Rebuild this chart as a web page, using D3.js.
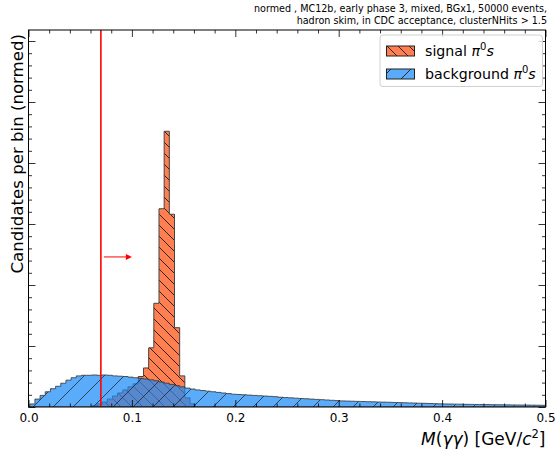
<!DOCTYPE html>
<html>
<head>
<meta charset="utf-8">
<script src="https://cdn.jsdelivr.net/npm/d3@7"></script>
<style>
  body { margin: 0; background: #fff; }
  svg { font-family: "DejaVu Sans", sans-serif; }
</style>
</head>
<body>
<svg id="chart"></svg>
<script>
// histogram binning: 0.005 GeV wide bins
const binWidth = 0.005;

// signal pi0 candidates, first filled bin starts at 0.0612
const signalStart = 0.0612;
const signalValues = [0.2, 0.5, 0.8, 1.3, 1.8, 2.3, 2.8, 3.3, 3.8, 5.0,
  6.4, 9.7, 17.0, 32.5, 45.2, 31.6, 13.0, 5.1, 1.5, 0.5];

// background pi0 candidates, one value per bin
const backgroundStart = 0.0012;
const backgroundValues = [
  0.5, 1.3, 1.9, 2.5, 3.0, 3.4, 3.9, 4.4, 4.8, 5.1,
  5.2, 5.2, 5.25, 5.2, 5.25, 5.2, 5.1, 5.05, 5.0, 4.9,
  4.8, 4.7, 4.6, 4.45, 4.3, 4.1, 3.9, 3.7, 3.5, 3.3,
  3.1, 2.95, 2.8, 2.7, 2.6, 2.5, 2.4, 2.3, 2.2, 2.1,
  2.05, 2.0, 1.95, 1.9, 1.85, 1.8, 1.75, 1.7, 1.6, 1.55,
  1.5, 1.45, 1.4, 1.35, 1.3, 1.25, 1.2, 1.15, 1.1, 1.05,
  1.0, 0.97, 0.95, 0.92, 0.9, 0.87, 0.85, 0.82, 0.8, 0.78,
  0.75, 0.72, 0.7, 0.67, 0.65, 0.62, 0.6, 0.57, 0.55, 0.52,
  0.5, 0.49, 0.47, 0.46, 0.44, 0.43, 0.42, 0.4, 0.39, 0.38,
  0.37, 0.36, 0.35, 0.34, 0.33, 0.32, 0.31, 0.3, 0.29, 0.28
];

const cutValue = 0.07;
const arrowEnd = 0.1;
const arrowLevel = 24.6;

const xTicks = [0.0, 0.1, 0.2, 0.3, 0.4, 0.5];
const yTicks = [0, 10, 20, 30, 40, 50, 60];

const titleLines = [
  "normed , MC12b, early phase 3, mixed, BGx1, 50000 events,",
  "hadron skim, in CDC acceptance, clusterNHits > 1.5"
];

const width = 557;
const height = 454;
const margin = { top: 30, right: 11.5, bottom: 47, left: 28.5 };

const signalColor = "#ff7f50";
const backgroundColor = "#1b8bf8";

const svg = d3.select("#chart")
  .attr("width", width)
  .attr("height", height);

const x = d3.scaleLinear()
  .domain([0, 0.5])
  .range([margin.left, width - margin.right]);

const y = d3.scaleLinear()
  .domain([0, (height - margin.bottom - margin.top) / 6.1])
  .range([height - margin.bottom, margin.top]);

// hatch patterns
const defs = svg.append("defs");

defs.append("pattern")
  .attr("id", "hatchSig")
  .attr("patternUnits", "userSpaceOnUse")
  .attr("width", 11).attr("height", 11)
  .append("path")
  .attr("d", "M-1,10 L1,12 M0,0 L11,11 M10,-1 L12,1")
  .attr("stroke", "#1a1a1a")
  .attr("stroke-width", 0.9);

defs.append("pattern")
  .attr("id", "hatchFwd")
  .attr("patternUnits", "userSpaceOnUse")
  .attr("width", 20).attr("height", 20)
  .append("path")
  .attr("d", "M-2,2 L2,-2 M0,20 L20,0 M18,22 L22,18")
  .attr("stroke", "#1a1a1a")
  .attr("stroke-width", 0.9);

defs.append("clipPath")
  .attr("id", "plotClip")
  .append("rect")
  .attr("x", margin.left).attr("y", margin.top)
  .attr("width", width - margin.left - margin.right)
  .attr("height", height - margin.top - margin.bottom);

// step outline of a histogram, closed along the baseline
function histPath(start, values) {
  let p = "M" + x(start) + "," + y(0);
  values.forEach((v, i) => {
    const e0 = start + i * binWidth;
    const e1 = e0 + binWidth;
    p += "L" + x(e0) + "," + y(v) + "L" + x(e1) + "," + y(v);
  });
  p += "L" + x(start + values.length * binWidth) + "," + y(0) + "Z";
  return p;
}

const plot = svg.append("g").attr("clip-path", "url(#plotClip)");

const sigPath = histPath(signalStart, signalValues);
const bkgPath = histPath(backgroundStart, backgroundValues);

// signal underneath
plot.append("path").attr("d", sigPath).attr("fill", signalColor);
plot.append("path").attr("d", sigPath).attr("fill", "url(#hatchSig)");
plot.append("path").attr("d", sigPath)
  .attr("fill", "none").attr("stroke", "#444").attr("stroke-width", 1);

// background on top, semi transparent
plot.append("path").attr("d", bkgPath)
  .attr("fill", backgroundColor).attr("fill-opacity", 0.72);
plot.append("path").attr("d", bkgPath)
  .attr("fill", "url(#hatchFwd)").attr("opacity", 0.8);
plot.append("path").attr("d", bkgPath)
  .attr("fill", "none").attr("stroke", "#333").attr("stroke-opacity", 0.8)
  .attr("stroke-width", 1);

// cut line and direction arrow
svg.append("line")
  .attr("x1", x(cutValue)).attr("x2", x(cutValue))
  .attr("y1", y.range()[0]).attr("y2", y.range()[1])
  .attr("stroke", "#ff0000").attr("stroke-width", 1.6);

svg.append("line")
  .attr("x1", x(cutValue) + 3).attr("x2", x(arrowEnd) - 5)
  .attr("y1", y(arrowLevel)).attr("y2", y(arrowLevel))
  .attr("stroke", "#ff0000").attr("stroke-width", 1);
svg.append("path")
  .attr("d", "M" + x(arrowEnd) + "," + y(arrowLevel) +
    "l-6,-3 l0,6 Z")
  .attr("fill", "#ff0000");

// axes, ticks pointing inward on all four sides
const xMinor = d3.range(0, 0.5001, 0.02).filter(v => Math.abs(v * 10 - Math.round(v * 10)) > 1e-6);
const yMinor = d3.range(0, 61.8, 2).filter(v => v % 10 !== 0);

function styleAxis(g) {
  g.select(".domain").remove();
  g.selectAll(".tick line").attr("stroke", "#000").attr("stroke-width", 0.8);
}

function addTicks(axisFn, ticks, size, transform) {
  svg.append("g")
    .attr("transform", transform)
    .call(axisFn.tickValues(ticks).tickFormat("")
      .tickSizeInner(-size).tickSizeOuter(0))
    .call(styleAxis);
}

svg.append("g")
  .attr("transform", "translate(0," + y(0) + ")")
  .call(d3.axisBottom(x).tickValues(xTicks).tickFormat(d3.format(".1f"))
    .tickSizeInner(-7).tickSizeOuter(0).tickPadding(6))
  .call(styleAxis)
  .call(g => g.selectAll("text").attr("font-size", 12)
    .attr("font-family", "DejaVu Sans").attr("fill", "#000"));

addTicks(d3.axisBottom(x), xMinor, 3.5, "translate(0," + y(0) + ")");
addTicks(d3.axisTop(x), xTicks, 7, "translate(0," + margin.top + ")");
addTicks(d3.axisTop(x), xMinor, 3.5, "translate(0," + margin.top + ")");
addTicks(d3.axisLeft(y), yTicks, 7, "translate(" + margin.left + ",0)");
addTicks(d3.axisLeft(y), yMinor, 3.5, "translate(" + margin.left + ",0)");
addTicks(d3.axisRight(y), yTicks, 7, "translate(" + x(0.5) + ",0)");
addTicks(d3.axisRight(y), yMinor, 3.5, "translate(" + x(0.5) + ",0)");

// frame
svg.append("rect")
  .attr("x", x(0)).attr("y", y.range()[1])
  .attr("width", x(0.5) - x(0))
  .attr("height", y.range()[0] - y.range()[1])
  .attr("fill", "none").attr("stroke", "#000").attr("stroke-width", 1);

// axis labels
svg.append("text")
  .attr("transform", "translate(22.5," + (margin.top + 4) + ") rotate(-90)")
  .attr("text-anchor", "end")
  .attr("font-size", 16.6)
  .text("Candidates per bin (normed)");

const xl = svg.append("text")
  .attr("x", x(0.5)).attr("y", 445)
  .attr("text-anchor", "end")
  .attr("font-size", 17);
xl.append("tspan").attr("font-style", "italic").text("M");
xl.append("tspan").text("(");
xl.append("tspan").attr("font-style", "italic").text("γγ");
xl.append("tspan").text(") [GeV/");
xl.append("tspan").attr("font-style", "italic").text("c");
xl.append("tspan").attr("font-size", 11.5).attr("dy", -7).text("2");
xl.append("tspan").attr("dy", 7).text("]");

// title block, right aligned above the frame
svg.append("g").selectAll("text")
  .data(titleLines)
  .join("text")
  .attr("x", x(0.5) + 1.5)
  .attr("y", (d, i) => 12 + i * 12)
  .attr("text-anchor", "end")
  .attr("font-size", 9.6)
  .text(d => d);

// legend
const legend = svg.append("g");
legend.append("rect")
  .attr("x", 380).attr("y", 35)
  .attr("width", 162.5).attr("height", 51.5)
  .attr("rx", 3)
  .attr("fill", "#fff").attr("fill-opacity", 0.8)
  .attr("stroke", "#d0d0d0").attr("stroke-width", 1);

const legendItems = [
  { label: "signal", fill: signalColor, opacity: 1, hatch: "url(#hatchSig)" },
  { label: "background", fill: backgroundColor, opacity: 0.72, hatch: "url(#hatchFwd)" }
];

legendItems.forEach((d, i) => {
  const ty = 46 + i * 23;
  legend.append("rect")
    .attr("x", 386.5).attr("y", ty).attr("width", 28).attr("height", 10)
    .attr("fill", d.fill).attr("fill-opacity", d.opacity);
  legend.append("rect")
    .attr("x", 386.5).attr("y", ty).attr("width", 28).attr("height", 10)
    .attr("fill", d.hatch)
    .attr("stroke", "#222").attr("stroke-width", 1);
  const t = legend.append("text")
    .attr("x", 425).attr("y", ty + 10)
    .attr("font-size", 14.2);
  t.append("tspan").text(d.label + " ");
  t.append("tspan").attr("font-style", "italic").text("π");
  t.append("tspan").attr("font-size", 10).attr("dy", -6).text("0");
  t.append("tspan").attr("dy", 6).attr("font-style", "italic").text("s");
});
</script>
</body>
</html>
